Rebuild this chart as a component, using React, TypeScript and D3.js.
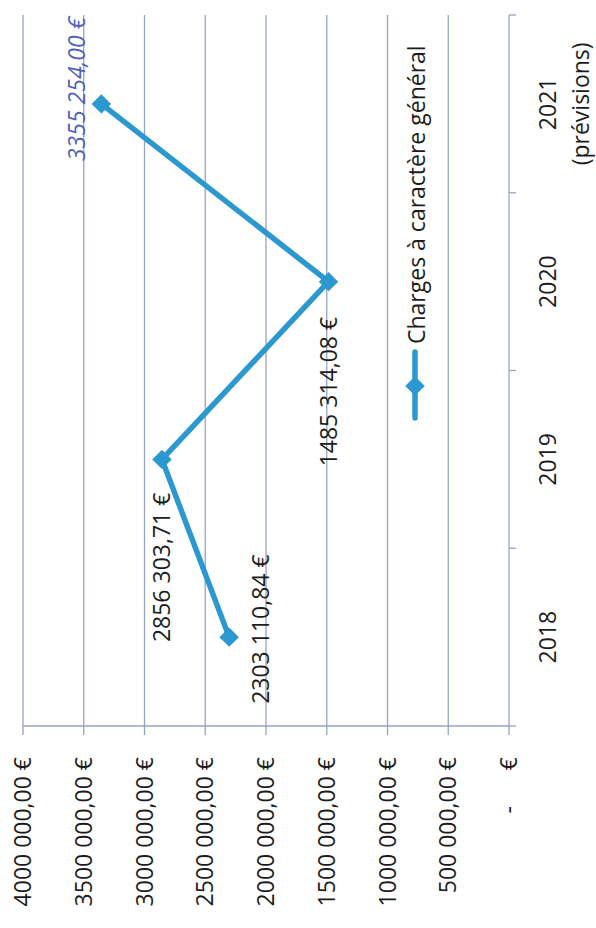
import React from "react";
import * as d3 from "d3";

const categories = ["2018", "2019", "2020", "2021"];
const categoryNotes = ["", "", "", "(prévisions)"];
const values = [2303110.84, 2856303.71, 1485314.08, 3355254.0];
const valueLabels = ["2303 110,84 €", "2856 303,71 €", "1485 314,08 €", "3355 254,00 €"];
const tickValues = [0, 500000, 1000000, 1500000, 2000000, 2500000, 3000000, 3500000, 4000000];
const tickLabels = [
  "-\u00a0\u00a0\u00a0\u00a0\u00a0\u00a0€",
  "500 000,00 €",
  "1000 000,00 €",
  "1500 000,00 €",
  "2000 000,00 €",
  "2500 000,00 €",
  "3000 000,00 €",
  "3500 000,00 €",
  "4000 000,00 €",
];
const seriesName = "Charges à caractère général";

const W = 596;
const H = 928;
const FONT = "'Open Sans', sans-serif";
const FS = 23;
const LINE = "#2c98d0";
const GRID = "#97a3c2";

// label placement (rotated chart): [dx across value axis, dy along category axis, anchor]
const labelOffsets: [number, number, string][] = [
  [32, -8, "middle"],
  [0, 108, "middle"],
  [0, 110, "middle"],
  [-24, -15, "middle"],
];
const labelColors = ["#1c1c1c", "#1c1c1c", "#1c1c1c", "#4f5fc0"];

function RText({ x, y, anchor = "middle", children, fill = "#1c1c1c", italic = false, fs = FS }: any) {
  return (
    <text
      transform={`translate(${x},${y}) rotate(-90)`}
      textAnchor={anchor}
      dy="0.35em"
      fontFamily={FONT}
      fontSize={fs}
      fill={fill}
      fontStyle={italic ? "italic" : "normal"}
      style={{ whiteSpace: "pre" }}
    >
      {children}
    </text>
  );
}

export default function App() {
  const x = d3.scaleLinear().domain([0, 4000000]).range([509, 23]);
  const y = d3
    .scaleBand<string>()
    .domain([...categories].reverse())
    .range([15, 726])
    .paddingInner(0)
    .paddingOuter(0);
  const cy = (c: string) => (y(c) as number) + y.bandwidth() / 2;
  const pts: [number, number][] = categories.map((c, i) => [x(values[i]), cy(c)]);
  const line = d3.line();
  const diamond = d3.symbol().type(d3.symbolSquare).size(190)();
  const axisY = 726;
  const axisX = x(0);
  const bounds = [...categories].reverse().map((c) => y(c) as number).concat([726]);

  return (
    <svg
      width={W}
      height={H}
      style={{ position: "absolute", left: 0, top: 0, background: "#fff" }}
    >
      <rect width={W} height={H} fill="#fff" />
      {/* gridlines */}
      {tickValues.slice(1).map((v) => (
        <line key={v} x1={x(v)} x2={x(v)} y1={15} y2={axisY} stroke={GRID} strokeWidth={1.3} />
      ))}
      {/* value axis line + ticks */}
      <line x1={x(4000000)} x2={axisX} y1={axisY} y2={axisY} stroke={GRID} strokeWidth={1.3} />
      {tickValues.map((v) => (
        <line key={v} x1={x(v)} x2={x(v)} y1={axisY} y2={axisY + 9} stroke={GRID} strokeWidth={1.3} />
      ))}
      {/* category axis */}
      <line x1={axisX} x2={axisX} y1={15} y2={axisY} stroke={GRID} strokeWidth={1.3} />
      {bounds.map((b, i) => (
        <line key={i} x1={axisX} x2={axisX + 7} y1={b} y2={b} stroke={GRID} strokeWidth={1.3} />
      ))}
      {/* tick labels */}
      {tickValues.map((v, i) => (
        <RText key={v} x={x(v)} y={757} anchor="end">
          {tickLabels[i]}
        </RText>
      ))}
      {/* category labels */}
      {categories.map((c, i) =>
        categoryNotes[i] ? (
          <g key={c}>
            <RText x={548} y={cy(c)}>{c}</RText>
            <RText x={581} y={cy(c)}>{categoryNotes[i]}</RText>
          </g>
        ) : (
          <RText key={c} x={548} y={cy(c)}>{c}</RText>
        )
      )}
      {/* series line */}
      <path d={line(pts) as string} fill="none" stroke={LINE} strokeWidth={5.5} strokeLinejoin="round" />
      {pts.map((p, i) => (
        <path key={i} d={diamond as string} transform={`translate(${p[0]},${p[1]}) rotate(45)`} fill={LINE} />
      ))}
      {/* data labels */}
      {pts.map((p, i) => (
        <RText
          key={i}
          x={p[0] + labelOffsets[i][0]}
          y={p[1] + labelOffsets[i][1]}
          anchor={labelOffsets[i][2]}
          fill={labelColors[i]}
          italic={i === 3}
        >
          {valueLabels[i]}
        </RText>
      ))}
      {/* legend */}
      <line x1={415} x2={415} y1={418} y2={352} stroke={LINE} strokeWidth={5.5} strokeLinecap="round" />
      <path d={diamond as string} transform={`translate(415,386) rotate(45)`} fill={LINE} />
      <RText x={417} y={344} anchor="start">{seriesName}</RText>
    </svg>
  );
}
